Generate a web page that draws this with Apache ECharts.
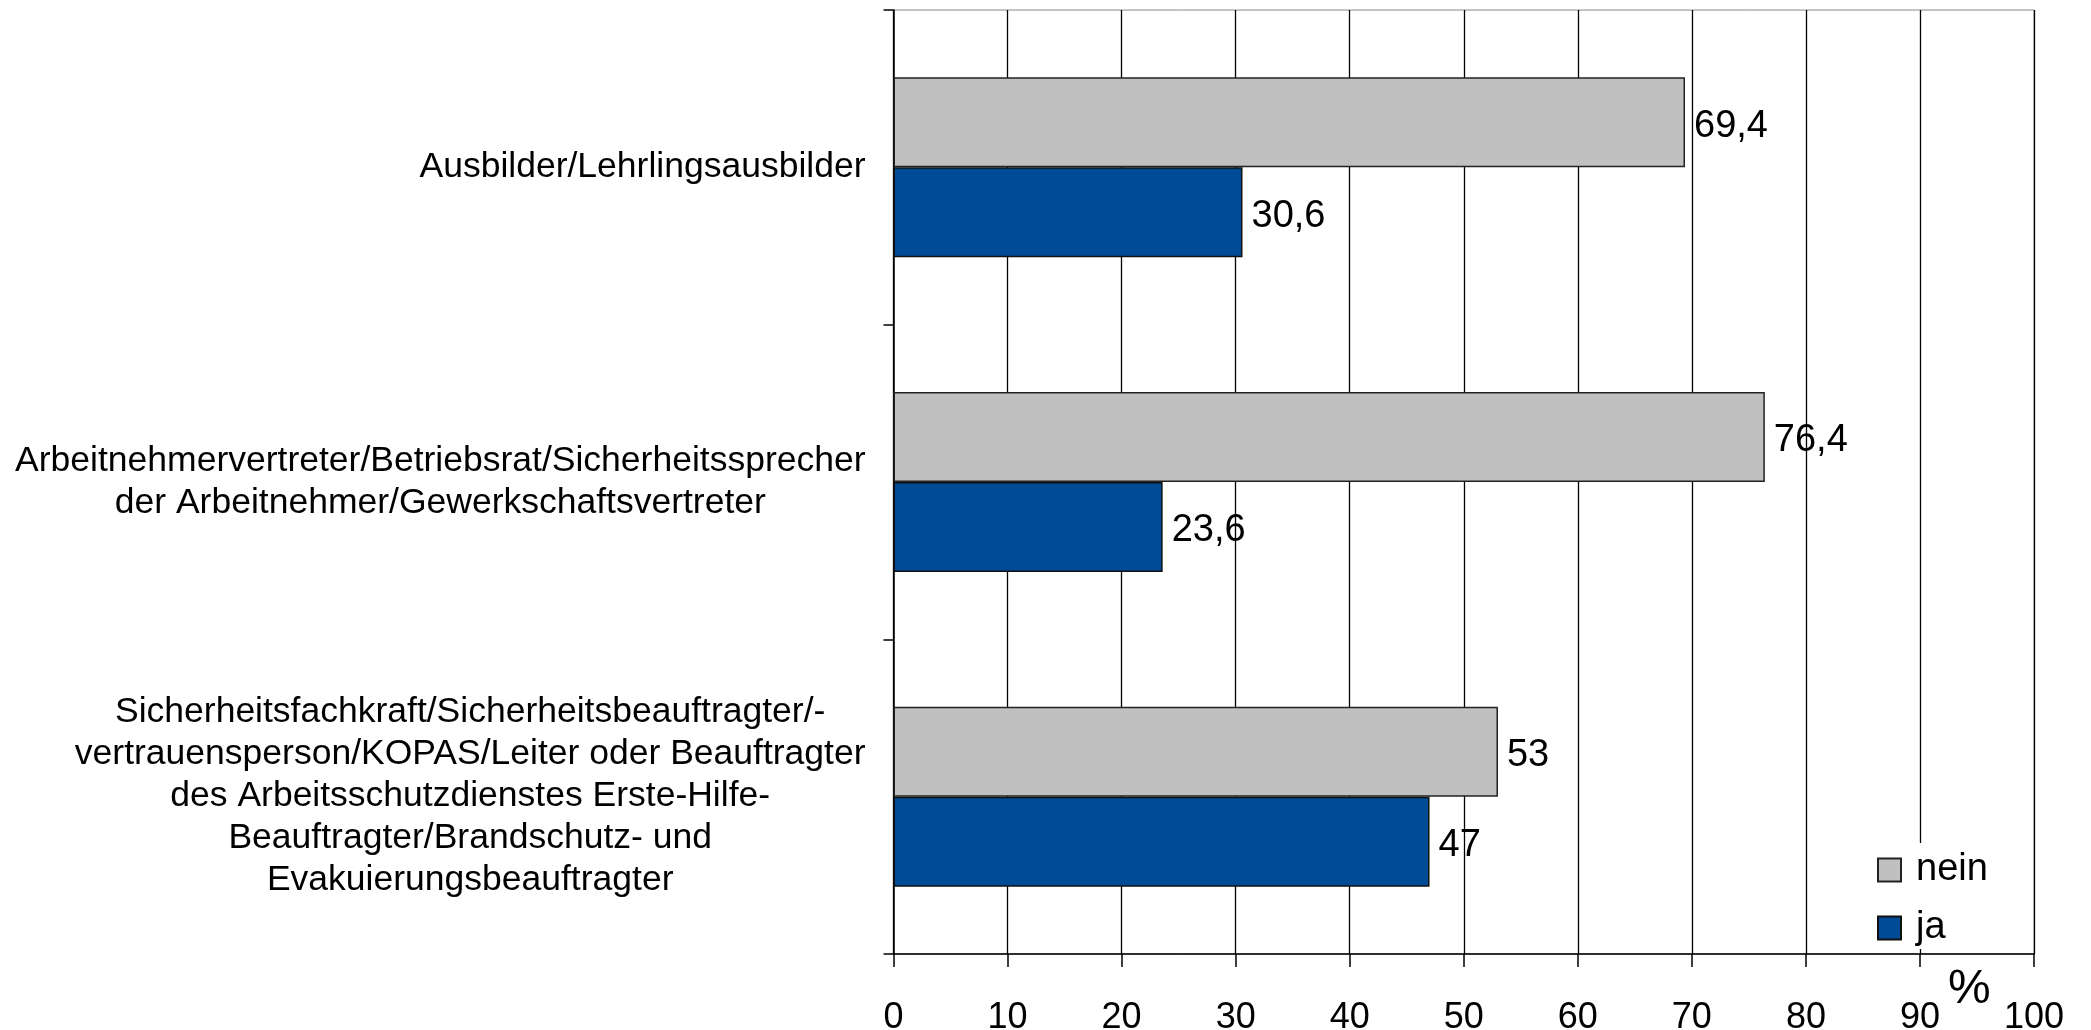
<!DOCTYPE html>
<html>
<head>
<meta charset="utf-8">
<script src="https://cdn.jsdelivr.net/npm/echarts@6/dist/echarts.min.js"></script>
<style>
html,body{margin:0;padding:0;background:#fff;}
#chart{width:2091px;height:1030px;}
</style>
</head>
<body>
<div id="chart"></div>
<script>
const categories = [
  ['Ausbilder/Lehrlingsausbilder'],
  ['Arbeitnehmervertreter/Betriebsrat/Sicherheitssprecher', 'der Arbeitnehmer/Gewerkschaftsvertreter'],
  ['Sicherheitsfachkraft/Sicherheitsbeauftragter/-', 'vertrauensperson/KOPAS/Leiter oder Beauftragter', 'des Arbeitsschutzdienstes Erste-Hilfe-', 'Beauftragter/Brandschutz- und', 'Evakuierungsbeauftragter']
];
const neinValues = [69.4, 76.4, 53];
const jaValues = [30.6, 23.6, 47];
const xTicks = [0, 10, 20, 30, 40, 50, 60, 70, 80, 90, 100];
const seriesNames = ['nein', 'ja'];

const FONT = '"Liberation Sans", Arial, sans-serif';
const catNames = categories.map(lines => lines.join('\n'));
const fmt = v => String(v).replace('.', ',');

const chart = echarts.init(document.getElementById('chart'));
chart.setOption({
  animation: false,
  backgroundColor: '#fff',
  textStyle: { fontFamily: FONT, color: '#000' },
  grid: { left: 893.5, right: 57, top: 10, bottom: 76, show: true, borderColor: '#888', borderWidth: 1, containLabel: false, outerBoundsMode: 'none' },
  legend: {
    data: seriesNames,
    orient: 'vertical',
    left: 1862, top: 843,
    padding: [8, 12, 2, 15],
    itemWidth: 23, itemHeight: 23, itemGap: 20,
    backgroundColor: '#fff',
    textStyle: { fontSize: 38, fontFamily: FONT, color: '#000', padding: [0, 0, 0, 10] },
    icon: 'rect'
  },
  xAxis: {
    type: 'value', min: xTicks[0], max: xTicks[xTicks.length - 1], interval: 10,
    axisLine: { show: true, lineStyle: { color: '#000', width: 1.5 } },
    axisTick: { show: true, length: 13, lineStyle: { color: '#000', width: 1.5 } },
    axisLabel: { fontSize: 36, fontFamily: FONT, color: '#000', margin: 46 },
    splitLine: { show: true, lineStyle: { color: '#000', width: 1.3 } }
  },
  yAxis: {
    type: 'category', inverse: true, data: catNames,
    axisLine: { show: true, lineStyle: { color: '#000', width: 1.5 } },
    axisTick: { show: true, length: 10, lineStyle: { color: '#000', width: 1.5 } },
    axisLabel: {
      fontSize: 35.5, fontFamily: FONT, color: '#000', margin: 28, lineHeight: 42,
      formatter: v => v.split('\n').map(l => '{c|' + l + '}').join('\n'),
      rich: { c: { align: 'center', fontSize: 35.5, fontFamily: FONT, color: '#000', lineHeight: 42 } }
    }
  },
  graphic: [{
    type: 'text', left: 1948, top: 966,
    style: { text: '%', fontSize: 48, fontFamily: FONT, fill: '#000' }
  }],
  series: [
    {
      name: seriesNames[0], type: 'bar', data: neinValues, barWidth: 90, barGap: '0%',
      itemStyle: { color: '#C0C0C0', borderColor: '#222', borderWidth: 1.5 },
      label: { show: true, position: 'right', distance: 9, offset: [0, 4], fontSize: 38, fontFamily: FONT, color: '#000', formatter: p => fmt(p.value) }
    },
    {
      name: seriesNames[1], type: 'bar', data: jaValues, barWidth: 90, barGap: '0%',
      itemStyle: { color: '#004B96', borderColor: '#111', borderWidth: 1.5 },
      label: { show: true, position: 'right', distance: 9, offset: [0, 4], fontSize: 38, fontFamily: FONT, color: '#000', formatter: p => fmt(p.value) }
    }
  ]
});
</script>
</body>
</html>
